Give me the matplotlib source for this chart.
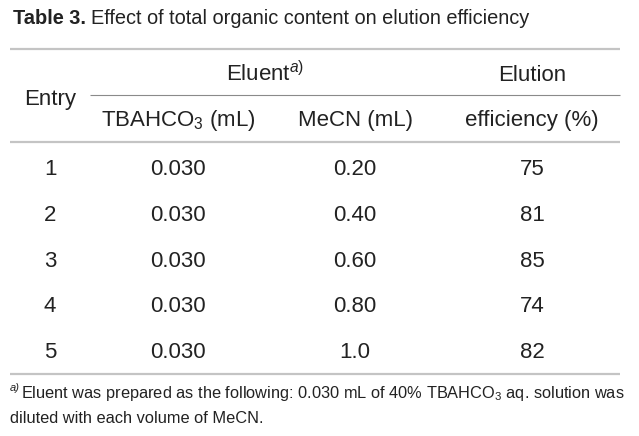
import matplotlib
matplotlib.use("Agg")
import matplotlib.pyplot as plt

# ---------------- data ----------------
entries = ["1", "2", "3", "4", "5"]
tbahco3 = ["0.030", "0.030", "0.030", "0.030", "0.030"]
mecn = ["0.20", "0.40", "0.60", "0.80", "1.0"]
efficiency = ["75", "81", "85", "74", "82"]

title_bold = "Table 3."
title_rest = "Effect of total organic content on elution efficiency"
footnote_1 = "Eluent was prepared as the following: 0.030 mL of 40% TBAHCO$_3$ aq. solution was"
footnote_2 = "diluted with each volume of MeCN."

plt.rcParams["font.family"] = ["Liberation Sans", "DejaVu Sans"]
plt.rcParams["mathtext.fontset"] = "custom"
plt.rcParams["mathtext.rm"] = "Liberation Sans"
plt.rcParams["mathtext.it"] = "Liberation Sans:italic"

W, H = 639, 436
fig = plt.figure(figsize=(W / 100, H / 100), dpi=100)
ax = fig.add_axes([0, 0, 1, 1])
ax.set_xlim(0, W)
ax.set_ylim(H, 0)
ax.axis("off")

txt = "#222222"
body = 16
title_fs = 14.4
foot_fs = 11.75

# title
t = ax.text(13, 24, title_bold, fontsize=title_fs, fontweight="bold",
            color=txt, va="baseline")
fig.canvas.draw()
bb = t.get_window_extent()
ax.text(13 + bb.width + 5, 24, title_rest, fontsize=title_fs,
        color=txt, va="baseline")

# rules
ax.plot([10, 620], [49.5, 49.5], color="#c4c4c4", lw=1.6, solid_capstyle="butt")
ax.plot([90, 620], [95.5, 95.5], color="#8a8a8a", lw=0.8, solid_capstyle="butt")
ax.plot([10, 620], [142, 142], color="#c4c4c4", lw=1.6, solid_capstyle="butt")
ax.plot([10, 620], [374, 374], color="#c4c4c4", lw=1.6, solid_capstyle="butt")

# header
col_x = [50, 178, 355, 532]
ax.text(col_x[0], 104.5, "Entry", fontsize=body, color=txt, ha="center", va="baseline")
ax.text(265, 81, "Eluent$^{\\mathit{a)}}$", fontsize=body, color=txt, ha="center", va="baseline")
ax.text(col_x[3], 81, "Elution", fontsize=body, color=txt, ha="center", va="baseline")
ax.text(col_x[1], 126, "TBAHCO$_3$ (mL)", fontsize=body, color=txt, ha="center", va="baseline")
ax.text(col_x[2], 126, "MeCN (mL)", fontsize=body, color=txt, ha="center", va="baseline")
ax.text(col_x[3], 126, "efficiency (%)", fontsize=body, color=txt, ha="center", va="baseline")

# body rows
for i in range(len(entries)):
    yb = 175 + i * 45.8
    for x, col in zip(col_x, [entries, tbahco3, mecn, efficiency]):
        ax.text(x, yb, col[i], fontsize=body, color=txt, ha="center", va="baseline")

# footnote
ax.text(10, 391, "a)", fontsize=8, style="italic", color=txt, va="baseline")
ax.text(21, 398, footnote_1, fontsize=foot_fs, color=txt, va="baseline")
ax.text(10, 423, footnote_2, fontsize=foot_fs, color=txt, va="baseline")

fig.savefig("out.png", dpi=100)
